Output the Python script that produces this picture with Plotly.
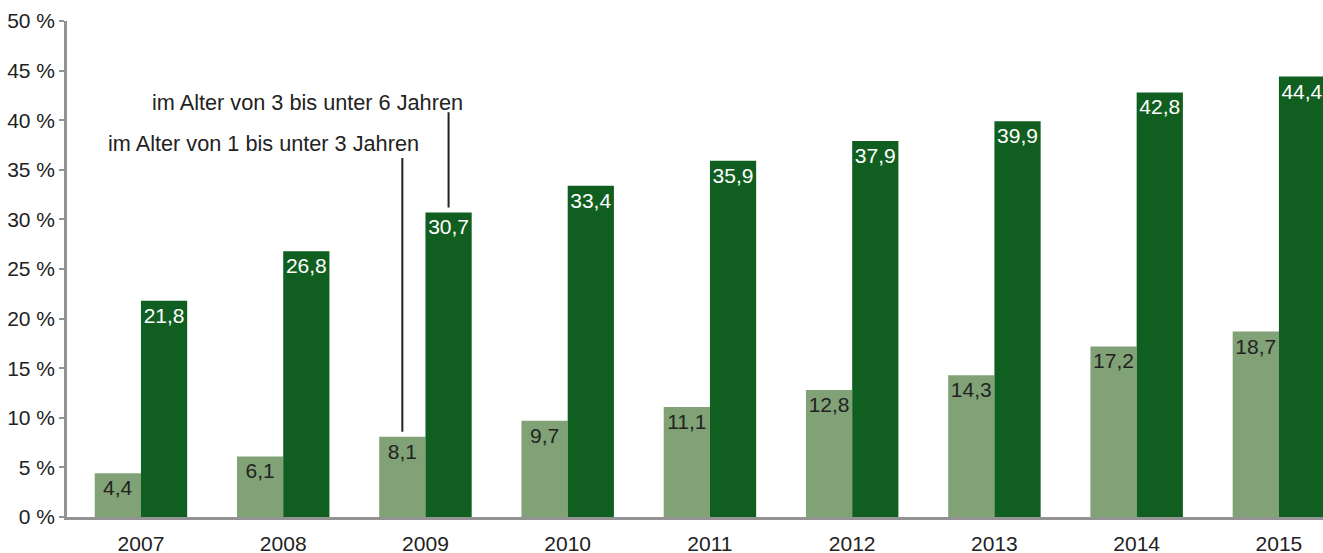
import plotly.graph_objects as go

years = ["2007", "2008", "2009", "2010", "2011", "2012", "2013", "2014", "2015"]
age_1_3 = [4.4, 6.1, 8.1, 9.7, 11.1, 12.8, 14.3, 17.2, 18.7]
age_3_6 = [21.8, 26.8, 30.7, 33.4, 35.9, 37.9, 39.9, 42.8, 44.4]
label_1_3 = [f"{v:.1f}".replace(".", ",") for v in age_1_3]
label_3_6 = [f"{v:.1f}".replace(".", ",") for v in age_3_6]
y_ticks = [0, 5, 10, 15, 20, 25, 30, 35, 40, 45, 50]
y_ticktext = [f"{v} %" for v in y_ticks]

LIGHT = "#80a276"
DARK = "#115f20"
FONT = "Liberation Sans, Arial, sans-serif"
W = 0.325
xs = list(range(len(years)))

fig = go.Figure()
fig.add_trace(go.Bar(
    x=xs, y=age_1_3, width=W, offset=-W, marker_color=LIGHT,
    marker_line_width=0,
    text=label_1_3, textposition="inside", insidetextanchor="end",
    textangle=0,
    textfont=dict(color="#222222", size=21, family=FONT),
    constraintext="none", name="im Alter von 1 bis unter 3 Jahren",
    cliponaxis=False,
))
fig.add_trace(go.Bar(
    x=xs, y=age_3_6, width=W, offset=0, marker_color=DARK,
    marker_line_width=0,
    text=label_3_6, textposition="inside", insidetextanchor="end",
    textangle=0,
    textfont=dict(color="white", size=21, family=FONT),
    constraintext="none", name="im Alter von 3 bis unter 6 Jahren",
    cliponaxis=False,
))

# leader lines + labels for 2009
i = 2
x_light = i - W / 2
x_dark = i + W / 2
fig.add_shape(type="line", xref="x", yref="y", x0=x_light, x1=x_light,
              y0=8.6, y1=36.2, line=dict(color="#222222", width=2))
fig.add_shape(type="line", xref="x", yref="y", x0=x_dark, x1=x_dark,
              y0=31.2, y1=40.8, line=dict(color="#222222", width=2))
fig.add_annotation(x=x_light, y=37.7, xref="x", yref="y", xanchor="right",
                   yanchor="middle", xshift=19, showarrow=False,
                   text="im Alter von 1 bis unter 3 Jahren",
                   font=dict(size=21.7, color="#222222", family=FONT))
fig.add_annotation(x=x_dark, y=41.8, xref="x", yref="y", xanchor="right",
                   yanchor="middle", xshift=16, showarrow=False,
                   text="im Alter von 3 bis unter 6 Jahren",
                   font=dict(size=21.7, color="#222222", family=FONT))

fig.update_layout(
    width=1323, height=553,
    margin=dict(l=67, r=0, t=21, b=36),
    paper_bgcolor="white", plot_bgcolor="white",
    showlegend=False, barmode="overlay",
    font=dict(family=FONT, size=21, color="#222222"),
    xaxis=dict(
        range=[-0.52, 8.31], tickvals=xs, ticktext=years,
        showgrid=False, zeroline=False, showline=True,
        linecolor="#939393", linewidth=3, ticks="",
        tickfont=dict(size=21, color="#222222"),
        automargin=False, ticklabelstandoff=6,
    ),
    yaxis=dict(
        range=[0, 50], tickvals=y_ticks, ticktext=y_ticktext,
        showgrid=False, zeroline=False, showline=True,
        linecolor="#939393", linewidth=2.5, ticks="outside",
        ticklen=5, tickcolor="#939393", tickwidth=2,
        tickfont=dict(size=21, color="#222222"),
        automargin=False,
    ),
)

# remove the browser's default page margin so the figure fills the window
fig.write_html(
    "out.html",
    config={"displayModeBar": False},
    post_script="document.body.style.margin='0';document.body.style.overflow='hidden';",
)
